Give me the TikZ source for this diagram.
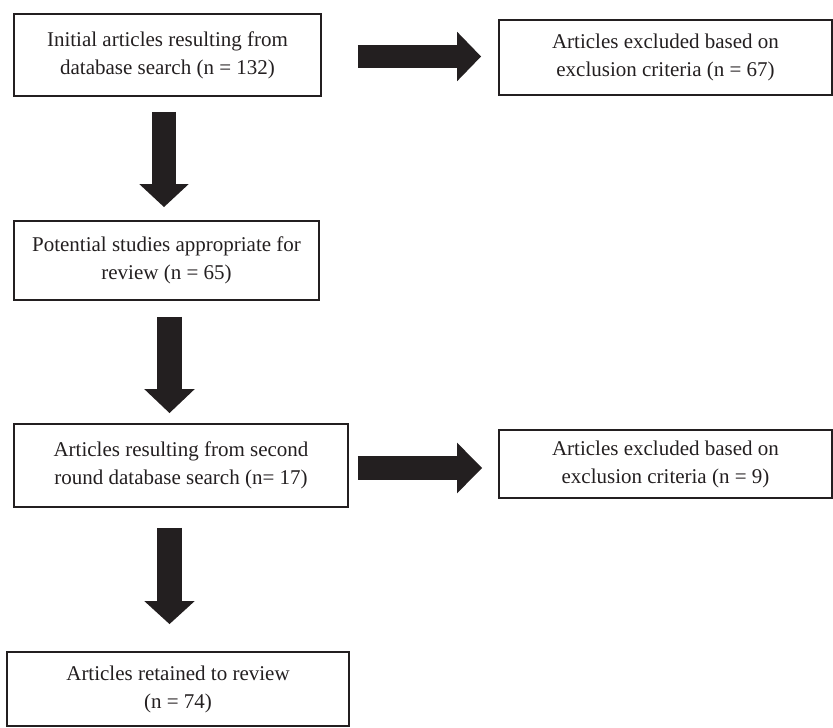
\documentclass[tikz,border=0pt]{standalone}
\usepackage{fontspec}
\setmainfont{Liberation Serif}
\usetikzlibrary{calc,arrows.meta}
\definecolor{ink}{HTML}{231F20}
\tikzset{
  flowbox/.style={draw=ink, line width=1.8pt, rectangle, inner sep=0pt, align=center,
    text=ink, font=\fontsize{21}{28}\selectfont},
  blockarrow/.style={draw=ink, line width=#1, line cap=butt},
}
\begin{document}
\begin{tikzpicture}[x=1pt,y=-1pt]
\useasboundingbox (0,0) rectangle (833,728);
\node[flowbox, minimum width=307pt, minimum height=82pt] (b1) at (167.5,55)
  {Initial articles resulting from\\database search (n = 132)};
\node[flowbox, minimum width=333pt, minimum height=75pt] (b2) at (665.5,57.5)
  {Articles excluded based on\\exclusion criteria (n = 67)};
\node[flowbox, minimum width=305pt, minimum height=79pt] (b3) at (166.5,260.5)
  {Potential studies appropriate for\\review (n = 65)};
\node[flowbox, minimum width=334pt, minimum height=83pt] (b4) at (181,465.5)
  {Articles resulting from second\\round database search (n= 17)};
\node[flowbox, minimum width=333pt, minimum height=68pt] (b5) at (665.5,464)
  {Articles excluded based on\\exclusion criteria (n = 9)};
\node[flowbox, minimum width=342pt, minimum height=74pt] (b6) at (178,689)
  {Articles retained to review\\(n = 74)};
% block arrows
\draw[blockarrow=23pt, -{Triangle[length=24pt,width=48pt]}, ink]
  ($(b1.east)+(36,1.5)$) -- ($(b2.west)+(-17,-1)$);
\draw[blockarrow=24pt, -{Triangle[length=25pt,width=49pt]}, ink]
  ($(b4.east)+(9,2.5)$) -- ($(b5.west)+(-16,4)$);
\draw[blockarrow=24pt, -{Triangle[length=23pt,width=48pt]}, ink]
  ($(b1.south)+(-3.5,15)$) -- ($(b3.north)+(-2.5,-13)$);
\draw[blockarrow=25pt, -{Triangle[length=24pt,width=49pt]}, ink]
  ($(b3.south)+(3,16)$) -- ($(b4.north)+(-11.5,-10)$);
\draw[blockarrow=25pt, -{Triangle[length=23pt,width=49pt]}, ink]
  ($(b4.south)+(-11.5,20)$) -- ($(b6.north)+(-8.5,-27)$);
\end{tikzpicture}
\end{document}
